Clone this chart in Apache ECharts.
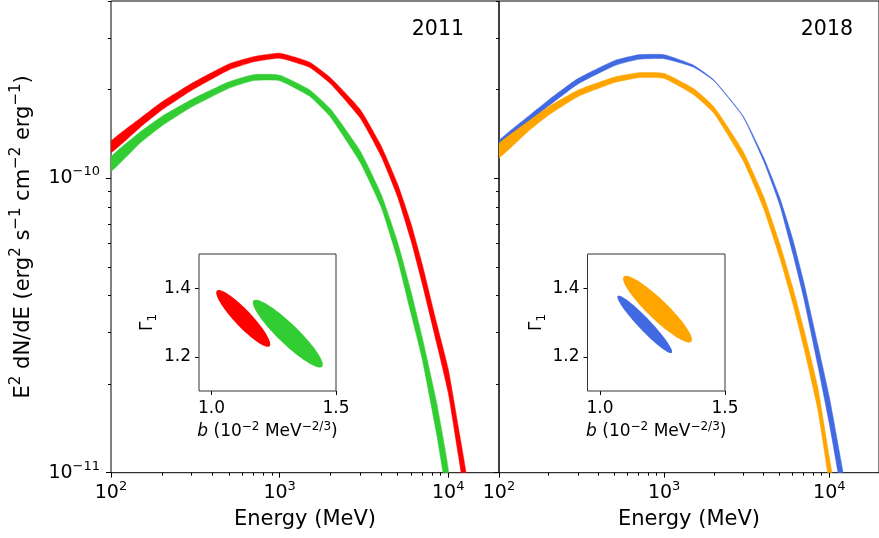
<!DOCTYPE html>
<html>
<head>
<meta charset="utf-8">
<script src="https://cdn.jsdelivr.net/npm/echarts@6/dist/echarts.min.js"></script>
<style>html,body{margin:0;padding:0;background:#fff}#c{width:879px;height:538px}</style>
</head>
<body>
<div id="c"></div>
<script>
// ---------- data ----------
const energy = [100, 150, 200, 300, 500, 700, 1000, 1500, 2000, 3000, 4000, 5000, 6000, 7000, 8500, 10000, 11500, 13000];

const red2011Upper = [1.336e-10, 1.603e-10, 1.815e-10, 2.099e-10, 2.445e-10, 2.588e-10, 2.658e-10, 2.481e-10, 2.196e-10, 1.715e-10, 1.288e-10, 9.59e-11, 7.05e-11, 5.12e-11, 3.25e-11, 2.25e-11, 1.42e-11, 9.30e-12];
const red2011Lower = [1.222e-10, 1.494e-10, 1.705e-10, 1.987e-10, 2.333e-10, 2.485e-10, 2.556e-10, 2.382e-10, 2.096e-10, 1.604e-10, 1.187e-10, 8.66e-11, 6.17e-11, 4.40e-11, 2.78e-11, 1.87e-11, 1.14e-11, 7.47e-12];

const green2011Upper = [1.181e-10, 1.441e-10, 1.621e-10, 1.850e-10, 2.126e-10, 2.249e-10, 2.239e-10, 2.000e-10, 1.721e-10, 1.240e-10, 8.83e-11, 6.09e-11, 4.15e-11, 2.89e-11, 1.75e-11, 1.03e-11];
const green2011Lower = [1.055e-10, 1.322e-10, 1.505e-10, 1.745e-10, 2.021e-10, 2.146e-10, 2.145e-10, 1.901e-10, 1.616e-10, 1.134e-10, 7.98e-11, 5.31e-11, 3.49e-11, 2.44e-11, 1.37e-11, 7.99e-12];

const blue2018Upper = [1.344e-10, 1.622e-10, 1.846e-10, 2.180e-10, 2.509e-10, 2.626e-10, 2.627e-10, 2.424e-10, 2.158e-10, 1.632e-10, 1.179e-10, 8.63e-11, 6.23e-11, 4.45e-11, 2.74e-11, 1.81e-11, 1.18e-11, 7.89e-12];
const blue2018Lower = [1.272e-10, 1.542e-10, 1.762e-10, 2.088e-10, 2.412e-10, 2.535e-10, 2.546e-10, 2.386e-10, 2.143e-10, 1.619e-10, 1.145e-10, 8.15e-11, 5.57e-11, 3.92e-11, 2.33e-11, 1.47e-11, 9.47e-12, 6.34e-12];

const orange2018Upper = [1.310e-10, 1.559e-10, 1.751e-10, 1.991e-10, 2.206e-10, 2.282e-10, 2.270e-10, 2.020e-10, 1.750e-10, 1.238e-10, 8.68e-11, 6.03e-11, 4.27e-11, 3.08e-11, 1.96e-11, 1.13e-11, 7.07e-12];
const orange2018Lower = [1.174e-10, 1.442e-10, 1.639e-10, 1.892e-10, 2.113e-10, 2.195e-10, 2.183e-10, 1.927e-10, 1.663e-10, 1.151e-10, 7.90e-11, 5.40e-11, 3.77e-11, 2.67e-11, 1.65e-11, 9.22e-12, 5.68e-12];

// inset error ellipses: [b at tip 1, Gamma1 at tip 1, b at tip 2, Gamma1 at tip 2, minor/major ratio]
const ellipse2011Red    = [1.022, 1.393, 1.233, 1.231, 0.22];
const ellipse2011Green  = [1.169, 1.364, 1.444, 1.171, 0.21];
const ellipse2018Blue   = [1.071, 1.3775, 1.287, 1.2115, 0.155];
const ellipse2018Orange = [1.095, 1.434, 1.365, 1.244, 0.21];

// ticks
const xMajorTicks = [100, 1000, 10000];
const xMinorTicks = [200, 300, 400, 500, 600, 700, 800, 900, 2000, 3000, 4000, 5000, 6000, 7000, 8000, 9000, 20000];
const yMajorTicks = [1e-11, 1e-10];
const yMinorTicks = [2e-11, 3e-11, 4e-11, 5e-11, 6e-11, 7e-11, 8e-11, 9e-11, 2e-10, 3e-10, 4e-10];
const insetXTicks = [1.0, 1.5];
const insetYTicks = [1.2, 1.4];
const yearLabels = ['2011', '2018'];

// ---------- chart ----------
const FF = 'DejaVu Sans';
const chart = echarts.init(document.getElementById('c'), null, {renderer: 'canvas'});

function pow10(v) {
  const e = Math.round(Math.log10(v));
  return '{b|10}{s|' + String(e).replace('-', '\u2212') + '}';
}
const powRich = {
  b: {fontSize: 19, lineHeight: 26, fontFamily: FF, color: '#000'},
  s: {fontSize: 13, lineHeight: 13, verticalAlign: 'top', fontFamily: FF, color: '#000'}
};

function mainX(gridIndex) {
  return {
    type: 'log', logBase: 10, gridIndex, min: 100, max: 20000, position: 'bottom',
    axisLine: {show: false}, splitLine: {show: false},
    axisTick: {show: true, customValues: xMajorTicks, length: 5, lineStyle: {color: '#000', width: 1}},
    axisLabel: {show: true, customValues: xMajorTicks, formatter: pow10, margin: 7, rich: powRich},
    name: 'Energy (MeV)', nameLocation: 'middle', nameGap: 36,
    nameTextStyle: {fontSize: 21, fontFamily: FF, color: '#000'}
  };
}
function minorX(gridIndex) {
  return {
    type: 'log', logBase: 10, gridIndex, min: 100, max: 20000, position: 'bottom',
    axisLine: {show: false}, splitLine: {show: false}, axisLabel: {show: false},
    axisTick: {show: true, customValues: xMinorTicks, length: 3, lineStyle: {color: '#000', width: 1}}
  };
}
function mainY(gridIndex, showLabels) {
  const ax = {
    type: 'log', logBase: 10, gridIndex, min: 1e-11, max: 4e-10, position: 'left',
    axisLine: {show: false}, splitLine: {show: false},
    axisTick: {show: true, customValues: yMajorTicks, length: 5, lineStyle: {color: '#000', width: 1}},
    axisLabel: {show: showLabels, customValues: yMajorTicks, formatter: pow10, margin: 11, rich: powRich}
  };
  if (showLabels) {
    ax.name = '{b|E}{s|2}{b| dN/dE (erg}{s|2}{b| s}{s|\u22121}{b| cm}{s|\u22122}{b| erg}{s|\u22121}{b|)}';
    ax.nameLocation = 'middle';
    ax.nameGap = 72;
    ax.nameRotate = 90;
    ax.nameTextStyle = {
      rich: {
        b: {fontSize: 21, lineHeight: 30, fontFamily: FF, color: '#000'},
        s: {fontSize: 15, lineHeight: 15, verticalAlign: 'top', fontFamily: FF, color: '#000'}
      }
    };
  }
  return ax;
}
function minorY(gridIndex) {
  return {
    type: 'log', logBase: 10, gridIndex, min: 1e-11, max: 4e-10, position: 'left',
    axisLine: {show: false}, splitLine: {show: false}, axisLabel: {show: false},
    axisTick: {show: true, customValues: yMinorTicks, length: 3, lineStyle: {color: '#000', width: 1}}
  };
}
function insetX(gridIndex) {
  return {
    type: 'value', gridIndex, min: 0.95, max: 1.5, position: 'bottom',
    axisLine: {show: false}, splitLine: {show: false},
    axisTick: {show: true, customValues: insetXTicks, length: 4, lineStyle: {color: '#000'}},
    axisLabel: {show: true, customValues: insetXTicks, formatter: v => v.toFixed(1), margin: 9,
      fontSize: 17, fontFamily: FF, color: '#000'},
    name: '{i|b}{b| (10}{s|\u22122}{b| MeV}{s|\u22122/3}{b|)}', nameLocation: 'middle', nameGap: 30,
    nameTextStyle: {rich: {
      i: {fontSize: 17, lineHeight: 22, fontStyle: 'italic', fontFamily: FF, color: '#000'},
      b: {fontSize: 17, lineHeight: 22, fontFamily: FF, color: '#000'},
      s: {fontSize: 12, lineHeight: 12, verticalAlign: 'top', fontFamily: FF, color: '#000'}
    }}
  };
}
function insetY(gridIndex) {
  return {
    type: 'value', gridIndex, min: 1.1, max: 1.5, position: 'left',
    axisLine: {show: false}, splitLine: {show: false},
    axisTick: {show: true, customValues: insetYTicks, length: 4, lineStyle: {color: '#000'}},
    axisLabel: {show: true, customValues: insetYTicks, formatter: v => v.toFixed(1), margin: 8,
      fontSize: 17, fontFamily: FF, color: '#000'},
    name: '{b|\u0393}{u|1}', nameLocation: 'middle', nameGap: 40, nameRotate: 90,
    nameTextStyle: {rich: {
      b: {fontSize: 17, lineHeight: 22, fontFamily: FF, color: '#000'},
      u: {fontSize: 12, lineHeight: 12, verticalAlign: 'bottom', fontFamily: FF, color: '#000'}
    }}
  };
}

function band(xIdx, yIdx, upper, lower, color, z) {
  const n = upper.length;
  const xs = energy.slice(0, n);
  return {
    type: 'custom', coordinateSystem: 'cartesian2d', xAxisIndex: xIdx, yAxisIndex: yIdx,
    clip: true, z, silent: true,
    data: xs.map((e, i) => [e, upper[i], lower[i]]),
    renderItem(params, api) {
      if (params.dataIndex !== 0) return null;
      const pts = [];
      for (let i = 0; i < n; i++) pts.push(api.coord([xs[i], upper[i]]));
      for (let i = n - 1; i >= 0; i--) pts.push(api.coord([xs[i], lower[i]]));
      return {
        type: 'polygon',
        shape: {points: pts, smooth: 0.15, smoothConstraint: false},
        style: {fill: color, stroke: color, lineWidth: 0.5}
      };
    }
  };
}

function ellipse(xIdx, yIdx, e, color) {
  return {
    type: 'custom', coordinateSystem: 'cartesian2d', xAxisIndex: xIdx, yAxisIndex: yIdx,
    clip: true, z: 5, silent: true,
    data: [e],
    renderItem(params, api) {
      const p1 = api.coord([api.value(0), api.value(1)]);
      const p2 = api.coord([api.value(2), api.value(3)]);
      const ratio = api.value(4);
      const cx = (p1[0] + p2[0]) / 2, cy = (p1[1] + p2[1]) / 2;
      const dx = (p2[0] - p1[0]) / 2, dy = (p2[1] - p1[1]) / 2;
      const a = Math.hypot(dx, dy), ux = dx / a, uy = dy / a, b = a * ratio;
      const pts = [];
      for (let k = 0; k < 96; k++) {
        const t = 2 * Math.PI * k / 96;
        const c = Math.cos(t), s = Math.sin(t);
        pts.push([cx + a * c * ux - b * s * uy, cy + a * c * uy + b * s * ux]);
      }
      return {type: 'polygon', shape: {points: pts}, style: {fill: color}};
    }
  };
}

const option = {
  animation: false,
  backgroundColor: '#fff',
  textStyle: {fontFamily: FF},
  grid: [
    {left: 111, top: 1, width: 388, height: 471.7, show: true, borderColor: '#000', borderWidth: 1, backgroundColor: 'transparent', containLabel: false},
    {left: 499, top: 1, width: 388, height: 471.7, show: true, borderColor: '#000', borderWidth: 1, backgroundColor: 'transparent', containLabel: false},
    {left: 199, top: 254, width: 137, height: 137, show: true, borderColor: '#333', borderWidth: 1, backgroundColor: '#fff', containLabel: false, z: 3},
    {left: 587.5, top: 254, width: 137.5, height: 137, show: true, borderColor: '#333', borderWidth: 1, backgroundColor: '#fff', containLabel: false, z: 3}
  ],
  xAxis: [mainX(0), mainX(1), minorX(0), minorX(1), insetX(2), insetX(3)],
  yAxis: [mainY(0, true), mainY(1, false), minorY(0), minorY(1), insetY(2), insetY(3)],
  graphic: [
    {type: 'text', x: 464, y: 30, z: 10, style: {text: yearLabels[0], fontSize: 20.5, fontFamily: FF, fill: '#000', align: 'right', verticalAlign: 'middle'}},
    {type: 'text', x: 853, y: 30, z: 10, style: {text: yearLabels[1], fontSize: 20.5, fontFamily: FF, fill: '#000', align: 'right', verticalAlign: 'middle'}}
  ],
  series: [
    band(0, 0, red2011Upper, red2011Lower, '#ff0000', 2),
    band(0, 0, green2011Upper, green2011Lower, '#32cd32', 2),
    band(1, 1, blue2018Upper, blue2018Lower, '#4169e1', 2),
    band(1, 1, orange2018Upper, orange2018Lower, '#ffa500', 3),
    ellipse(4, 4, ellipse2011Red, '#ff0000'),
    ellipse(4, 4, ellipse2011Green, '#32cd32'),
    ellipse(5, 5, ellipse2018Blue, '#4169e1'),
    ellipse(5, 5, ellipse2018Orange, '#ffa500')
  ]
};
chart.setOption(option);
</script>
</body>
</html>
